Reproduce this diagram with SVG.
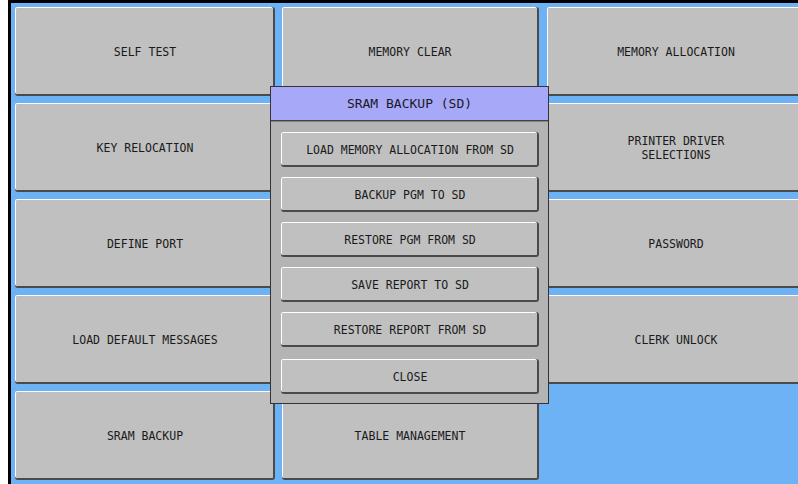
<svg xmlns="http://www.w3.org/2000/svg" width="798" height="484" viewBox="0 0 798 484">
<style>
.sh{fill:#4a4a4a}
.hl{fill:#ffffff}
.face{fill:#c0c0c0}
.t{font-family:"DejaVu Sans Mono","Liberation Mono",monospace;font-size:11.5px;fill:#1a1a1a;text-anchor:middle}
.h{font-family:"DejaVu Sans Mono","Liberation Mono",monospace;font-size:13px;fill:#1a1a2a;text-anchor:middle}
</style>
<rect x="0" y="0" width="798" height="484" fill="#ffffff"/>
<rect x="8" y="0" width="790" height="484" fill="#6cb2f4"/>
<rect x="8" y="0" width="3" height="484" fill="#000"/>
<rect x="8" y="0" width="790" height="3" fill="#000"/>

<g id="self-test"><rect class="sh" x="15" y="7" width="260" height="89" rx="3"/><rect class="hl" x="15" y="7" width="258" height="87" rx="2"/><rect class="face" x="16" y="8" width="257" height="86" rx="1"/><text class="t" x="145" y="56">SELF TEST</text></g>
<g id="memory-clear"><rect class="sh" x="282" y="7" width="257" height="89" rx="3"/><rect class="hl" x="282" y="7" width="255" height="87" rx="2"/><rect class="face" x="283" y="8" width="254" height="86" rx="1"/><text class="t" x="410" y="56">MEMORY CLEAR</text></g>
<g id="memory-allocation"><rect class="sh" x="547" y="7" width="256" height="89" rx="3"/><rect class="hl" x="547" y="7" width="254" height="87" rx="2"/><rect class="face" x="548" y="8" width="253" height="86" rx="1"/><text class="t" x="676" y="56">MEMORY ALLOCATION</text></g>

<g id="key-relocation"><rect class="sh" x="15" y="103" width="260" height="89" rx="3"/><rect class="hl" x="15" y="103" width="258" height="87" rx="2"/><rect class="face" x="16" y="104" width="257" height="86" rx="1"/><text class="t" x="145" y="152">KEY RELOCATION</text></g>
<g id="blank-r2c2"><rect class="sh" x="282" y="103" width="257" height="89" rx="3"/><rect class="hl" x="282" y="103" width="255" height="87" rx="2"/><rect class="face" x="283" y="104" width="254" height="86" rx="1"/></g>
<g id="printer-driver"><rect class="sh" x="547" y="103" width="256" height="89" rx="3"/><rect class="hl" x="547" y="103" width="254" height="87" rx="2"/><rect class="face" x="548" y="104" width="253" height="86" rx="1"/><text class="t" x="676" y="145">PRINTER DRIVER</text><text class="t" x="676" y="159">SELECTIONS</text></g>

<g id="define-port"><rect class="sh" x="15" y="199" width="260" height="89" rx="3"/><rect class="hl" x="15" y="199" width="258" height="87" rx="2"/><rect class="face" x="16" y="200" width="257" height="86" rx="1"/><text class="t" x="145" y="248">DEFINE PORT</text></g>
<g id="blank-r3c2"><rect class="sh" x="282" y="199" width="257" height="89" rx="3"/><rect class="hl" x="282" y="199" width="255" height="87" rx="2"/><rect class="face" x="283" y="200" width="254" height="86" rx="1"/></g>
<g id="password"><rect class="sh" x="547" y="199" width="256" height="89" rx="3"/><rect class="hl" x="547" y="199" width="254" height="87" rx="2"/><rect class="face" x="548" y="200" width="253" height="86" rx="1"/><text class="t" x="676" y="248">PASSWORD</text></g>

<g id="load-default-messages"><rect class="sh" x="15" y="295" width="260" height="89" rx="3"/><rect class="hl" x="15" y="295" width="258" height="87" rx="2"/><rect class="face" x="16" y="296" width="257" height="86" rx="1"/><text class="t" x="145" y="344">LOAD DEFAULT MESSAGES</text></g>
<g id="blank-r4c2"><rect class="sh" x="282" y="295" width="257" height="89" rx="3"/><rect class="hl" x="282" y="295" width="255" height="87" rx="2"/><rect class="face" x="283" y="296" width="254" height="86" rx="1"/></g>
<g id="clerk-unlock"><rect class="sh" x="547" y="295" width="256" height="89" rx="3"/><rect class="hl" x="547" y="295" width="254" height="87" rx="2"/><rect class="face" x="548" y="296" width="253" height="86" rx="1"/><text class="t" x="676" y="344">CLERK UNLOCK</text></g>

<g id="sram-backup"><rect class="sh" x="15" y="391" width="260" height="89" rx="3"/><rect class="hl" x="15" y="391" width="258" height="87" rx="2"/><rect class="face" x="16" y="392" width="257" height="86" rx="1"/><text class="t" x="145" y="440">SRAM BACKUP</text></g>
<g id="table-management"><rect class="sh" x="282" y="391" width="257" height="89" rx="3"/><rect class="hl" x="282" y="391" width="255" height="87" rx="2"/><rect class="face" x="283" y="392" width="254" height="86" rx="1"/><text class="t" x="410" y="440">TABLE MANAGEMENT</text></g>

<g id="popup">
<rect x="270.5" y="86.5" width="278" height="317" fill="#b4b4b4" stroke="#333" stroke-width="1"/>
<rect x="270.5" y="86.5" width="278" height="34" fill="#a8a8f8" stroke="#333" stroke-width="1"/>
<line x1="271" y1="121" x2="548" y2="121" stroke="#555" stroke-width="1"/>
<text class="h" x="409.5" y="108">SRAM BACKUP (SD)</text>
</g>
<g id="load-mem-alloc-sd"><rect class="sh" x="281" y="132" width="258" height="35" rx="3"/><rect class="hl" x="281" y="132" width="256" height="33" rx="2"/><rect class="face" x="282" y="133" width="255" height="32" rx="1"/><text class="t" x="410" y="154">LOAD MEMORY ALLOCATION FROM SD</text></g>
<g id="backup-pgm-sd"><rect class="sh" x="281" y="177" width="258" height="35" rx="3"/><rect class="hl" x="281" y="177" width="256" height="33" rx="2"/><rect class="face" x="282" y="178" width="255" height="32" rx="1"/><text class="t" x="410" y="199">BACKUP PGM TO SD</text></g>
<g id="restore-pgm-sd"><rect class="sh" x="281" y="222" width="258" height="35" rx="3"/><rect class="hl" x="281" y="222" width="256" height="33" rx="2"/><rect class="face" x="282" y="223" width="255" height="32" rx="1"/><text class="t" x="410" y="244">RESTORE PGM FROM SD</text></g>
<g id="save-report-sd"><rect class="sh" x="281" y="267" width="258" height="35" rx="3"/><rect class="hl" x="281" y="267" width="256" height="33" rx="2"/><rect class="face" x="282" y="268" width="255" height="32" rx="1"/><text class="t" x="410" y="289">SAVE REPORT TO SD</text></g>
<g id="restore-report-sd"><rect class="sh" x="281" y="312" width="258" height="35" rx="3"/><rect class="hl" x="281" y="312" width="256" height="33" rx="2"/><rect class="face" x="282" y="313" width="255" height="32" rx="1"/><text class="t" x="410" y="334">RESTORE REPORT FROM SD</text></g>
<g id="close"><rect class="sh" x="281" y="359" width="258" height="35" rx="3"/><rect class="hl" x="281" y="359" width="256" height="33" rx="2"/><rect class="face" x="282" y="360" width="255" height="32" rx="1"/><text class="t" x="410" y="381">CLOSE</text></g>
<g id="connectors"/>
</svg>
